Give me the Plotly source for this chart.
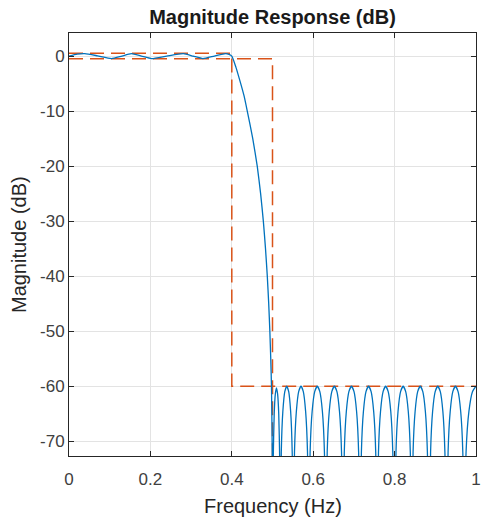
import plotly.graph_objects as go

# ---- data ----
# passband + transition band
freq_pass = [0.0, 0.02, 0.039, 0.07, 0.104, 0.128, 0.153, 0.178, 0.203, 0.24,
             0.281, 0.305, 0.329, 0.357, 0.385, 0.393, 0.4, 0.41, 0.42, 0.43,
             0.438, 0.4515, 0.4625, 0.4708, 0.4775, 0.4828, 0.4872, 0.4907, 0.4935,
             0.4957, 0.4975, 0.4993]
mag_pass = [0.0, 0.35, 0.45, 0.05, -0.45, -0.05, 0.45, 0.0, -0.45, 0.0,
            0.45, 0.0, -0.45, 0.0, 0.45, 0.3, 0.0, -2.0, -4.5, -7.2,
            -10.0, -15.0, -20.0, -25.0, -30.0, -35.0, -40.0, -45.0, -50.0,
            -55.0, -60.0, -72.0]

# stopband lobes (nulls drop far below the axis)
freq_stop = [0.5005, 0.502, 0.5042, 0.507, 0.5097, 0.5125, 0.5153, 0.5175,
             0.519, 0.5216, 0.5254, 0.5302, 0.535, 0.5398, 0.5446, 0.5484,
             0.551, 0.554, 0.5586, 0.5643, 0.570, 0.5757, 0.5814, 0.586,
             0.589, 0.5924, 0.5974, 0.6037, 0.610, 0.6163, 0.6226, 0.6276,
             0.631, 0.6344, 0.6394, 0.6457, 0.652, 0.6583, 0.6646, 0.6696,
             0.673, 0.6764, 0.6814, 0.6877, 0.694, 0.7003, 0.7066, 0.7116,
             0.715, 0.7184, 0.7234, 0.7297, 0.736, 0.7423, 0.7486, 0.7536,
             0.757, 0.7604, 0.7654, 0.7717, 0.778, 0.7843, 0.7906, 0.7956,
             0.800, 0.8034, 0.8084, 0.8147, 0.821, 0.8273, 0.8336, 0.8386,
             0.842, 0.8454, 0.8504, 0.8567, 0.863, 0.8693, 0.8756, 0.8806,
             0.885, 0.8884, 0.8934, 0.8997, 0.906, 0.9123, 0.9186, 0.9236,
             0.928, 0.9314, 0.9366, 0.943, 0.9495, 0.956, 0.9624, 0.9676,
             0.971, 0.9756, 0.9826, 0.9913, 1.0]
mag_stop = [-100, -72.5, -65.0, -61.4, -60.3, -61.4, -65.0, -72.5,
            -100, -72.0, -64.6, -61.0, -60.0, -61.0, -64.6, -72.0,
            -100, -72.0, -64.6, -61.0, -60.0, -61.0, -64.6, -72.0,
            -100, -72.0, -64.6, -61.0, -60.0, -61.0, -64.6, -72.0,
            -100, -72.0, -64.6, -61.0, -60.0, -61.0, -64.6, -72.0,
            -100, -72.0, -64.6, -61.0, -60.0, -61.0, -64.6, -72.0,
            -100, -72.0, -64.6, -61.0, -60.0, -61.0, -64.6, -72.0,
            -100, -72.0, -64.6, -61.0, -60.0, -61.0, -64.6, -72.0,
            -100, -72.0, -64.6, -61.0, -60.0, -61.0, -64.6, -72.0,
            -100, -72.0, -64.6, -61.0, -60.0, -61.0, -64.6, -72.0,
            -100, -72.0, -64.6, -61.0, -60.0, -61.0, -64.6, -72.0,
            -100, -72.0, -64.6, -61.0, -60.0, -61.0, -64.6, -72.0,
            -100, -72.0, -64.6, -61.0, -60.0]

# specification mask
mask_upper_f = [0.0, 0.4, 0.4, 1.0]
mask_upper_db = [0.5, 0.5, -60.0, -60.0]
mask_lower_f = [0.0, 0.5, 0.5]
mask_lower_db = [-0.5, -0.5, -100.0]

x_ticks = [0, 0.2, 0.4, 0.6, 0.8, 1]
x_tick_labels = ["0", "0.2", "0.4", "0.6", "0.8", "1"]
y_ticks = [0, -10, -20, -30, -40, -50, -60, -70]
y_tick_labels = ["0", "-10", "-20", "-30", "-40", "-50", "-60", "-70"]

FONT = "Liberation Sans, Arial, sans-serif"
MASK_COLOR = "#D95319"
CURVE_COLOR = "#0072BD"

fig = go.Figure()
fig.add_trace(go.Scatter(x=mask_upper_f, y=mask_upper_db, mode="lines",
                         line=dict(color=MASK_COLOR, width=1.5, dash="14px,7px"),
                         hoverinfo="skip"))
fig.add_trace(go.Scatter(x=mask_lower_f, y=mask_lower_db, mode="lines",
                         line=dict(color=MASK_COLOR, width=1.5, dash="14px,7px"),
                         hoverinfo="skip"))
fig.add_trace(go.Scatter(x=freq_pass + freq_stop, y=mag_pass + mag_stop, mode="lines",
                         line=dict(color=CURVE_COLOR, width=1.3, shape="spline", smoothing=0.5)))

axis_common = dict(showline=True, linecolor="#262626", linewidth=1, mirror="ticks",
                   ticks="inside", ticklen=5, tickcolor="#262626",
                   showgrid=True, gridcolor="#E3E3E3", gridwidth=1, zeroline=False,
                   ticklabeloverflow="allow",
                   tickfont=dict(family=FONT, size=17, color="#404040"))

fig.update_xaxes(range=[0, 1], tickvals=x_ticks, ticktext=x_tick_labels,
                 ticklabelstandoff=8, **axis_common)
fig.update_yaxes(range=[-72.7, 4.2], tickvals=y_ticks, ticktext=y_tick_labels, **axis_common)

fig.update_layout(
    width=484, height=520,
    margin=dict(l=69, r=3, t=33, b=64),
    paper_bgcolor="white", plot_bgcolor="white",
    showlegend=False,
    title=dict(text="<b>Magnitude Response (dB)</b>", x=0.5, xref="paper",
               y=1 - 17 / 520, yref="container", xanchor="center", yanchor="middle",
               font=dict(family=FONT, size=20, color="#1A1A1A")),
    annotations=[
        dict(text="Frequency (Hz)", x=0.5, y=-0.118, xref="paper", yref="paper",
             xanchor="center", yanchor="middle", showarrow=False,
             font=dict(family=FONT, size=20, color="#262626")),
        dict(text="Magnitude (dB)", x=-0.124, y=0.5, xref="paper", yref="paper",
             xanchor="center", yanchor="middle", showarrow=False, textangle=-90,
             font=dict(family=FONT, size=20, color="#262626")),
    ],
)

fig.write_html("out.html", config={"displayModeBar": False},
               post_script="document.body.style.margin='0';document.body.style.overflow='hidden';")
